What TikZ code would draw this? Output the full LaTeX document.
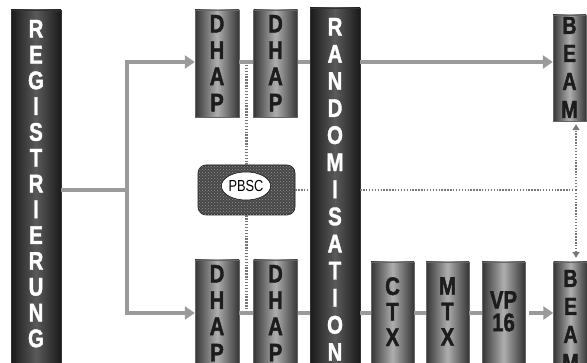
\documentclass[tikz,border=0pt]{standalone}
\usepackage{fontspec}
\usetikzlibrary{arrows.meta,shapes.geometric,patterns}
\newfontfamily\condfont[FakeStretch=0.8, BoldFeatures={FakeBold=1.5}]{Liberation Sans}

\definecolor{darkedge}{HTML}{1A1A1A}
\definecolor{darkmid}{HTML}{5A5A5A}
\definecolor{midedge}{HTML}{353535}
\definecolor{midmid}{HTML}{AEAEAE}
\definecolor{flowgray}{HTML}{9A9A9A}
\definecolor{dotgray}{HTML}{777777}
\definecolor{inkdark}{HTML}{1C1C1C}

\tikzset{
  darkbar/.style={rectangle, inner sep=0pt, draw=black!80, line width=0.4pt,
    left color=darkedge, right color=darkedge, middle color=darkmid},
  midbar/.style={rectangle, inner sep=0pt, draw=black!60, line width=0.4pt,
    left color=midedge, right color=midedge, middle color=midmid},
  vtext/.style={inner sep=0pt, align=center, anchor=north,
    font=\condfont\bfseries\fontsize{25.5}{#1}\selectfont},
  lighttext/.style={vtext=#1, text=white},
  darktext/.style={vtext=#1, text=inkdark},
  flow/.style={draw=flowgray, line width=4pt},
  flowarrow/.style={flow, -{Triangle[length=10pt,width=13pt]}},
  dots/.style={draw=dotgray, line width=2.4pt, dash pattern=on 1.4pt off 1.5pt},
  dotarrow/.style={dots, -{Triangle[length=6pt,width=7pt]}},
}

\begin{document}
\begin{tikzpicture}[x=1pt,y=-1pt]
\useasboundingbox (0,0) rectangle (587,363);
\clip (0,0) rectangle (587,363);

% reference rows
\coordinate (rowT) at (0,62);
\coordinate (rowM) at (0,190);
\coordinate (rowB) at (0,313);
\coordinate (split) at (127,190);
\coordinate (dv) at (246.5,62);
\coordinate (dj) at (576,190);

% PBSC box
\node[rectangle, rounded corners=8pt, minimum width=97pt, minimum height=50pt,
      draw=black!90, line width=0.6pt, fill=black!72,
      postaction={pattern=crosshatch dots, pattern color=black!42}]
      (pbsc) at (246.5,190) {};
\node[ellipse, draw=black, line width=0.5pt, fill=white, minimum width=48pt,
      minimum height=28pt, inner sep=0pt,
      font=\condfont\fontsize{16}{16}\selectfont] (pbscT) at (246,186) {PBSC};

% dotted links (behind the bars)
\draw[dots] (dv) -- (pbsc.north);
\draw[dots] (pbsc.south) -- (dv |- rowB);

% bars
\node[darkbar, minimum width=50pt, minimum height=362pt] (reg) at (36,191) {};
\node[darkbar, minimum width=50pt, minimum height=364pt] (rand) at (335,190) {};
\node[midbar, minimum width=44pt, minimum height=107pt] (dhapA) at (217,63.5) {};
\node[midbar, minimum width=44pt, minimum height=107pt] (dhapB) at (275.5,63.5) {};
\node[midbar, minimum width=33pt, minimum height=106pt] (beamA) at (569.5,68) {};
\node[midbar, minimum width=44pt, minimum height=112pt] (dhapC) at (217,316) {};
\node[midbar, minimum width=44pt, minimum height=112pt] (dhapD) at (275.5,316) {};
\node[midbar, minimum width=43pt, minimum height=110pt] (ctx) at (392.5,317) {};
\node[midbar, minimum width=43pt, minimum height=110pt] (mtx) at (447.5,317) {};
\node[midbar, minimum width=43pt, minimum height=110pt] (vp) at (503.5,317) {};
\node[midbar, minimum width=34pt, minimum height=110pt] (beamB) at (570.5,317) {};

% bar labels
\node[lighttext=25.8] (regT) at ([yshift=-10pt]reg.north)
  {R\\E\\G\\I\\S\\T\\R\\I\\E\\R\\U\\N\\G};
\node[lighttext=27.1] (randT) at ([yshift=-10pt]rand.north)
  {R\\A\\N\\D\\O\\M\\I\\S\\A\\T\\I\\O\\N};
\node[darktext=26.3] (dhapAT) at ([yshift=-5pt]dhapA.north) {D\\H\\A\\P};
\node[darktext=26.3] (dhapBT) at ([yshift=-5pt]dhapB.north) {D\\H\\A\\P};
\node[darktext=26.3] (dhapCT) at ([yshift=-5pt]dhapC.north) {D\\H\\A\\P};
\node[darktext=26.3] (dhapDT) at ([yshift=-5pt]dhapD.north) {D\\H\\A\\P};
\node[darktext=28, font=\condfont\bfseries\fontsize{24.5}{28}\selectfont]
  (beamAT) at ([yshift=-2pt]beamA.north) {B\\E\\A\\M};
\node[darktext=28, font=\condfont\bfseries\fontsize{24.5}{28}\selectfont]
  (beamBT) at ([yshift=-8pt]beamB.north) {B\\E\\A\\M};
\node[darktext=25.5] (ctxT) at (392.5,277) {C\\T\\X};
\node[darktext=25.5] (mtxT) at (447.5,277) {M\\T\\X};
\node[darktext=22.5] (vpT) at (503.5,291) {VP\\16};

% main flow
\draw[flow] (reg.east |- split) -- (split);
\draw[flowarrow] (split) |- (dhapA.west |- rowT);
\draw[flowarrow] (split) |- (dhapC.west |- rowB);
\draw[flow] (dhapA.east |- rowT) -- (dhapB.west |- rowT);
\draw[flow] (dhapB.east |- rowT) -- (rand.west |- rowT);
\draw[flowarrow] (rand.east |- rowT) -- (beamA.west |- rowT);
\draw[flow] (dhapC.east |- rowB) -- (dhapD.west |- rowB);
\draw[flow] (dhapD.east |- rowB) -- (rand.west |- rowB);
\draw[flow] (rand.east |- rowB) -- (ctx.west |- rowB);
\draw[flow] (ctx.east |- rowB) -- (mtx.west |- rowB);
\draw[flow] (mtx.east |- rowB) -- (vp.west |- rowB);
\draw[flowarrow] ([xshift=4pt]vp.east |- rowB) -- (beamB.west |- rowB);

% PBSC to BEAM
\draw[dots] (pbsc.east) -- (rand.west |- pbsc.east);
\draw[dots] (rand.east |- pbsc.east) -- (dj);
\draw[dotarrow] (dj) -- ([yshift=-3pt]beamA.south -| dj);
\draw[dotarrow] (dj) -- ([yshift=4pt]beamB.north -| dj);
\end{tikzpicture}
\end{document}
